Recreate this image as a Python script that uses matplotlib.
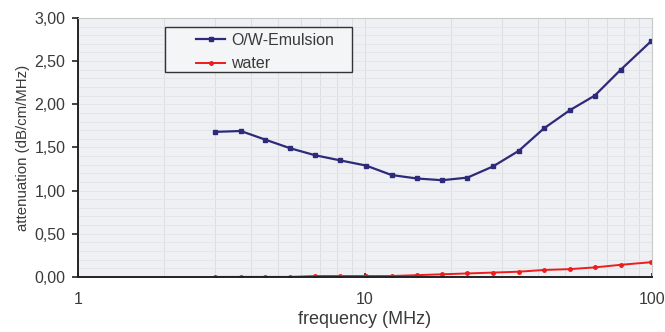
import numpy as np
import matplotlib
matplotlib.use("Agg")
import matplotlib.pyplot as plt
from matplotlib.patches import Rectangle
from matplotlib.ticker import FuncFormatter, LogLocator, MultipleLocator

# frequency (MHz)
freq = [3.0, 3.7, 4.5, 5.5, 6.7, 8.2, 10.1, 12.4, 15.2, 18.6, 22.8, 28.0, 34.4, 42.1, 51.8, 63.3, 78.0, 99.5]
emulsion = [1.68, 1.69, 1.59, 1.49, 1.41, 1.35, 1.29, 1.18, 1.14, 1.12, 1.15, 1.28, 1.46, 1.72, 1.93, 2.10, 2.40, 2.73]
water = [0.00, 0.00, 0.00, 0.00, 0.01, 0.01, 0.01, 0.01, 0.02, 0.03, 0.04, 0.05, 0.06, 0.08, 0.09, 0.11, 0.14, 0.17]

plt.rcParams['font.family'] = ['Liberation Sans', 'DejaVu Sans']
txt = '#3a3a3a'

fig = plt.figure(figsize=(6.65, 3.32), dpi=100)
fig.patch.set_facecolor('white')
ax = fig.add_axes([0.117, 0.166, 0.863, 0.780])
ax.set_facecolor('#eef0f4')

ax.plot(freq, emulsion, color='#2e2a7a', marker='s', markersize=3.5, lw=1.6, label='O/W-Emulsion')
ax.plot(freq, water, color='#ee1c1c', marker='o', markersize=2.5, lw=1.4, label='water')

ax.set_xscale('log')
ax.set_xlim(1, 100)
ax.set_ylim(0, 3)
ax.yaxis.set_major_locator(MultipleLocator(0.5))
ax.yaxis.set_minor_locator(MultipleLocator(0.1))
ax.yaxis.set_major_formatter(FuncFormatter(lambda v, p: f"{v:.2f}".replace('.', ',')))
ax.xaxis.set_major_formatter(FuncFormatter(lambda v, p: f"{v:g}"))
ax.xaxis.set_minor_locator(LogLocator(base=10, subs=np.arange(2, 10)))
ax.xaxis.set_minor_formatter(FuncFormatter(lambda v, p: ''))

ax.grid(which='minor', axis='x', color='#dcdee2', lw=0.7)
ax.grid(which='major', axis='x', color='#dcdee2', lw=0.7)
ax.grid(which='both', axis='y', color='#e3e5e9', lw=0.7)
ax.set_axisbelow(True)

for s in ['top', 'right']:
    ax.spines[s].set_color('#c8c8c8')
    ax.spines[s].set_linewidth(0.8)
for s in ['left', 'bottom']:
    ax.spines[s].set_color('#222222')
    ax.spines[s].set_linewidth(1.4)

ax.tick_params(axis='y', which='major', direction='out', length=4, width=1.2, labelsize=11.5, colors='#222222', labelcolor=txt, pad=5)
ax.tick_params(axis='y', which='minor', length=0)
ax.tick_params(axis='x', which='major', direction='in', length=3, width=1.2, labelsize=11.5, colors='#222222', labelcolor=txt, pad=11)
ax.tick_params(axis='x', which='minor', length=0)

ax.set_xlabel('frequency (MHz)', fontsize=13, color=txt, labelpad=3)
ax.set_ylabel('attenuation (dB/cm/MHz)', fontsize=10.8, color=txt, labelpad=3)

# legend box drawn separately: the original has a wide empty margin on the left
box = Rectangle((0.1516, 0.7915), 0.3254, 0.1735, transform=ax.transAxes,
                facecolor='#f4f5f7', edgecolor='#333333', lw=1.0, zorder=4)
ax.add_patch(box)
leg = ax.legend(loc='upper left', bbox_to_anchor=(0.198, 0.962), fontsize=11.5, frameon=False,
                handlelength=1.8, handletextpad=0.4, borderpad=0.3, labelspacing=0.55,
                borderaxespad=0)
leg.set_zorder(5)
for t in leg.get_texts():
    t.set_color(txt)

fig.savefig('out.png', dpi=100)
